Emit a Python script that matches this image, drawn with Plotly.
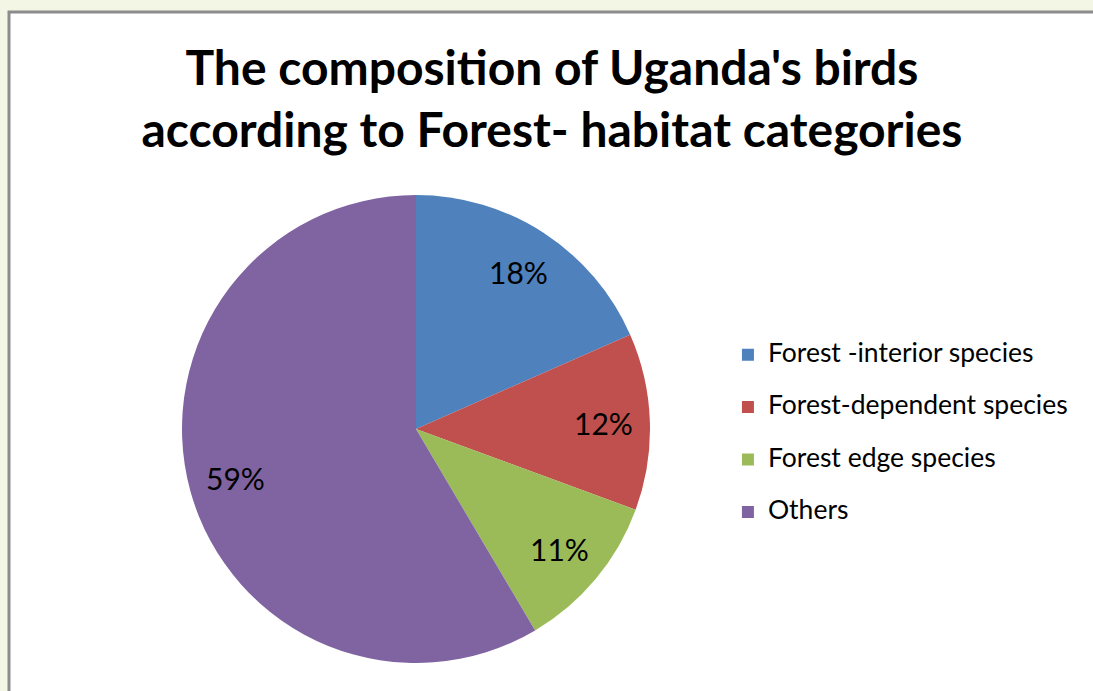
import math
import plotly.graph_objects as go

categories = ["Forest -interior species", "Forest-dependent species", "Forest edge species", "Others"]
values = [18.4, 12.2, 10.9, 58.5]
colors = ["#4F81BD", "#C0504D", "#9BBB59", "#8064A2"]
title_text = "The composition of Uganda's birds<br>according to Forest- habitat categories"

W, H = 1093, 691
cx, cy, R = 416, 429, 234
x0d, x1d = (cx - R) / W, (cx + R) / W
y0d, y1d = 1 - (cy + R) / H, 1 - (cy - R) / H

fig = go.Figure(go.Pie(
    labels=[f"<span style='font-size:26.5px'>{c}</span><br> " for c in categories],
    values=values,
    sort=False,
    direction="clockwise",
    rotation=0,
    marker=dict(colors=colors, line=dict(width=0)),
    textinfo="none",
    domain=dict(x=[x0d, x1d], y=[y0d, y1d]),
    hoverinfo="percent",
))

# percentage labels placed along each slice's mid-angle, derived from the values
total = sum(values)
annotations = []
cum = 0.0
for v in values:
    mid = (cum + v / 2) / total * 2 * math.pi
    cum += v
    rr = 0.8 * R
    px = cx + rr * math.sin(mid)
    py = cy - rr * math.cos(mid)
    pct = int(v / total * 100 + 0.5)
    annotations.append(dict(x=px / W, y=1 - py / H, xref="paper", yref="paper",
                            xanchor="center", yanchor="middle",
                            text=f"{pct}%", showarrow=False,
                            font=dict(family="Lato", size=30, color="black")))

fig.update_layout(
    width=W, height=H,
    margin=dict(l=0, r=0, t=0, b=0),
    paper_bgcolor="#F3F6E5",
    plot_bgcolor="white",
    title=dict(text=title_text, x=0.505, xanchor="center", y=0.877, yanchor="top",
               font=dict(family="Lato", size=48, color="black", weight="bold")),
    legend=dict(x=0.666, xanchor="left", y=0.514, yanchor="top", valign="top",
                font=dict(family="Lato", size=19, color="black"),
                bgcolor="rgba(0,0,0,0)"),
    annotations=annotations,
    shapes=[dict(type="rect", xref="paper", yref="paper", x0=9 / W, x1=1.02, y0=-0.02, y1=1 - 12 / H,
                 fillcolor="white", line=dict(color="#8C8C8C", width=3), layer="below")],
)

fig.write_html("out.html", config={"displayModeBar": False},
               post_script="document.body.style.margin='0';")
